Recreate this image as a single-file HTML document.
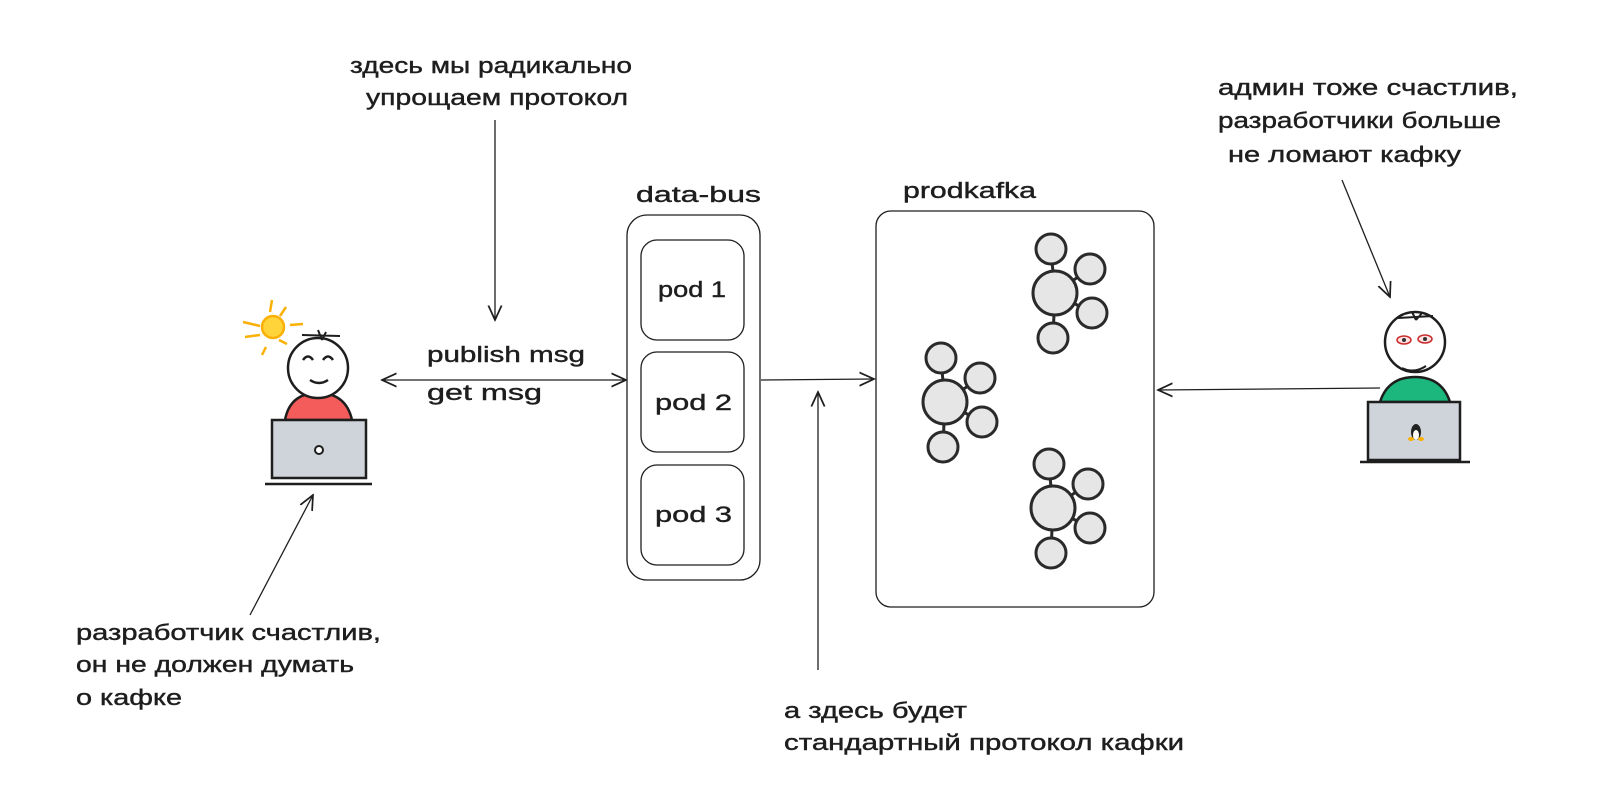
<!DOCTYPE html>
<html><head><meta charset="utf-8"><style>html,body{margin:0;padding:0;background:#fff}svg{display:block}</style></head>
<body>
<svg width="1600" height="811" viewBox="0 0 1600 811" xmlns="http://www.w3.org/2000/svg">
<defs>
<marker id="ah" viewBox="0 0 12 12" refX="11" refY="6" markerWidth="16" markerHeight="16" orient="auto-start-reverse" markerUnits="userSpaceOnUse">
<path d="M0,1 L11,6 L0,11" fill="none" stroke="#1e1e1e" stroke-width="1.3"/>
</marker>
<g id="cl">
<g fill="#e6e6e6" stroke="#2a2a2a" stroke-width="3">
<line x1="0" y1="0" x2="-4" y2="-42" /><line x1="0" y1="0" x2="33" y2="-23"/><line x1="0" y1="0" x2="35" y2="19"/><line x1="0" y1="0" x2="-2" y2="43"/>
<circle cx="0" cy="0" r="22"/>
<circle cx="-4" cy="-44" r="15"/><circle cx="35" cy="-24" r="15"/><circle cx="37" cy="20" r="15"/><circle cx="-2" cy="45" r="15"/>
</g>
</g>
</defs>
<g font-family="'Liberation Sans','DejaVu Sans',sans-serif" font-size="22" fill="#1e1e1e" stroke="#1e1e1e" stroke-width="0.4">
<text x="350" y="73" textLength="282" lengthAdjust="spacingAndGlyphs">здесь мы радикально</text>
<text x="366" y="105" textLength="262" lengthAdjust="spacingAndGlyphs">упрощаем протокол</text>
<text x="636" y="202" textLength="125" lengthAdjust="spacingAndGlyphs">data-bus</text>
<text x="903" y="198" textLength="133" lengthAdjust="spacingAndGlyphs">prodkafka</text>
<text x="1218" y="95" textLength="300" lengthAdjust="spacingAndGlyphs">админ тоже счастлив,</text>
<text x="1218" y="128" textLength="283" lengthAdjust="spacingAndGlyphs">разработчики больше</text>
<text x="1228" y="162" textLength="233" lengthAdjust="spacingAndGlyphs">не ломают кафку</text>
<text x="427" y="362" textLength="158" lengthAdjust="spacingAndGlyphs">publish msg</text>
<text x="427" y="400" textLength="115" lengthAdjust="spacingAndGlyphs">get msg</text>
<text x="658" y="297" textLength="68" lengthAdjust="spacingAndGlyphs">pod 1</text>
<text x="655" y="410" textLength="77" lengthAdjust="spacingAndGlyphs">pod 2</text>
<text x="655" y="522" textLength="77" lengthAdjust="spacingAndGlyphs">pod 3</text>
<text x="76" y="640" textLength="305" lengthAdjust="spacingAndGlyphs">разработчик счастлив,</text>
<text x="76" y="672" textLength="278" lengthAdjust="spacingAndGlyphs">он не должен думать</text>
<text x="76" y="705" textLength="106" lengthAdjust="spacingAndGlyphs">о кафке</text>
<text x="784" y="718" textLength="183" lengthAdjust="spacingAndGlyphs">а здесь будет</text>
<text x="784" y="750" textLength="400" lengthAdjust="spacingAndGlyphs">стандартный протокол кафки</text>
</g>
<g fill="none" stroke="#1e1e1e" stroke-width="1.3">
<rect x="627" y="215" width="133" height="365" rx="20"/>
<rect x="641" y="240" width="103" height="100" rx="16"/>
<rect x="641" y="352" width="103" height="100" rx="16"/>
<rect x="641" y="465" width="103" height="100" rx="16"/>
<rect x="876" y="211" width="278" height="396" rx="15"/>
<line x1="382" y1="380" x2="626" y2="380" marker-start="url(#ah)" marker-end="url(#ah)"/>
<line x1="761" y1="380" x2="874" y2="379" marker-end="url(#ah)"/>
<line x1="1380" y1="388" x2="1158" y2="390" marker-end="url(#ah)"/>
<line x1="495" y1="120" x2="495" y2="320" marker-end="url(#ah)"/>
<line x1="818" y1="670" x2="818" y2="392" marker-end="url(#ah)"/>
<line x1="250" y1="615" x2="313" y2="495" marker-end="url(#ah)"/>
<line x1="1342" y1="180" x2="1390" y2="297" marker-end="url(#ah)"/>
</g>
<use href="#cl" x="945" y="402"/>
<use href="#cl" x="1055" y="293"/>
<use href="#cl" x="1053" y="508"/>
<!-- left person -->
<g stroke="#1e1e1e" stroke-width="2.5">
<path d="M285,420 Q290,393 318,393 Q346,393 352,420 Z" fill="#f45b5b"/>
<circle cx="318" cy="368" r="30" fill="#fff"/>
<rect x="272" y="420" width="94" height="58" fill="#ced4da"/>
<line x1="265" y1="484" x2="372" y2="484"/>
<circle cx="319" cy="450" r="4" fill="#fff" stroke-width="2"/>
<path d="M303,360 q5,-7 10,0 M323,360 q5,-7 10,0 M310,380 q9,6 18,0" fill="none"/>
<path d="M302,335 L340,336 M318,330 L322,340 M326,332 L322,340" fill="none" stroke-width="2"/>
</g>
<g stroke="#fab005" stroke-width="2.5" fill="none">
<line x1="243" y1="322" x2="260" y2="326"/><line x1="245" y1="337" x2="260" y2="335"/><line x1="272" y1="300" x2="270" y2="312"/><line x1="286" y1="307" x2="280" y2="316"/><line x1="290" y1="325" x2="303" y2="324"/><line x1="266" y1="347" x2="262" y2="355"/>
<circle cx="273" cy="327" r="11" fill="#ffd43b"/>
<line x1="279" y1="340" x2="287" y2="344"/>
</g>
<!-- right person -->
<g stroke="#1e1e1e" stroke-width="2.5">
<path d="M1380,402 Q1388,377 1415,377 Q1442,377 1450,402 Z" fill="#1cb77d"/>
<circle cx="1415" cy="342" r="30" fill="#fff"/>
<rect x="1368" y="402" width="92" height="58" fill="#ced4da"/>
<line x1="1360" y1="462" x2="1470" y2="462"/>
<path d="M1402,368 q12,6 24,-2 M1398,318 L1433,316 M1412,312 L1416,320 M1422,313 L1416,320" fill="none" stroke-width="2"/>
</g>
<g stroke="#c92a2a" stroke-width="1.5" fill="#ffe3e3">
<ellipse cx="1404" cy="340" rx="7" ry="4"/><ellipse cx="1425" cy="339" rx="7" ry="4"/>
</g>
<circle cx="1404" cy="340" r="2" fill="#333"/><circle cx="1425" cy="339" r="2" fill="#333"/>
<g>
<ellipse cx="1416" cy="432" rx="5" ry="8" fill="#222"/>
<ellipse cx="1416" cy="435" rx="3" ry="5" fill="#fff"/>
<ellipse cx="1411" cy="439" rx="3" ry="2" fill="#fab005"/><ellipse cx="1421" cy="439" rx="3" ry="2" fill="#fab005"/>
</g>
</svg>
</body></html>
